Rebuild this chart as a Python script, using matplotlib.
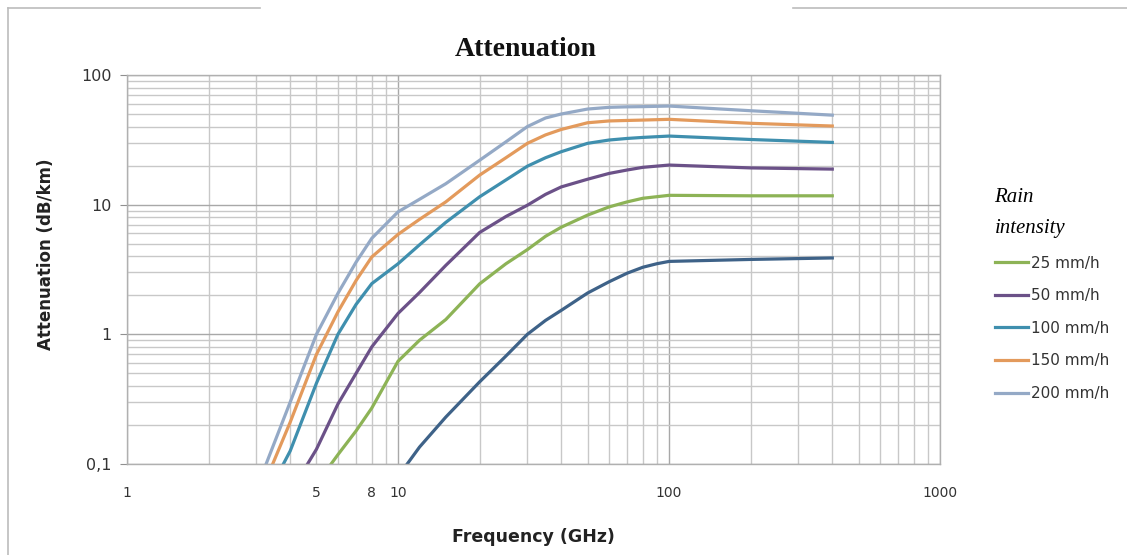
import matplotlib
matplotlib.use("Agg")
import matplotlib.pyplot as plt
from matplotlib.ticker import LogLocator, FuncFormatter, NullFormatter
from matplotlib.lines import Line2D

# ---------- data ----------
freq_25 = [5, 6, 7, 8, 10, 12, 15, 20, 25, 30, 35, 40, 50, 60, 70, 80, 100, 200, 400]
att_25 = [0.07, 0.118, 0.18, 0.27, 0.62, 0.9, 1.3, 2.45, 3.5, 4.5, 5.7, 6.7, 8.3, 9.6, 10.5,
          11.2, 11.8, 11.7, 11.7]

freq_50 = [4, 5, 6, 7, 8, 10, 12, 15, 20, 25, 30, 35, 40, 50, 60, 70, 80, 100, 200, 400]
att_50 = [0.06, 0.13, 0.29, 0.5, 0.8, 1.45, 2.1, 3.4, 6.1, 8.1, 9.9, 12.0, 13.7, 15.7, 17.4,
          18.5, 19.4, 20.2, 19.2, 18.8]

freq_100 = [3, 4, 5, 6, 7, 8, 10, 12, 15, 20, 25, 30, 35, 40, 50, 60, 70, 80, 100, 200, 400]
att_100 = [0.04, 0.126, 0.42, 1.0, 1.7, 2.46, 3.5, 4.9, 7.3, 11.5, 15.5, 19.8, 23.0, 25.6, 29.7,
           31.5, 32.4, 33.0, 33.8, 31.8, 30.2]

freq_150 = [3, 4, 5, 6, 7, 8, 10, 12, 15, 20, 25, 30, 35, 40, 50, 60, 70, 80, 100, 200, 400]
att_150 = [0.05, 0.21, 0.7, 1.49, 2.6, 3.95, 5.9, 7.7, 10.5, 16.9, 23.0, 29.7, 34.5, 38.0, 42.8,
           44.2, 44.6, 44.9, 45.5, 42.4, 40.4]

freq_200 = [3, 4, 5, 6, 7, 8, 10, 12, 15, 20, 25, 30, 35, 40, 50, 60, 70, 80, 100, 200, 400]
att_200 = [0.064, 0.30, 1.0, 2.07, 3.6, 5.5, 8.8, 11.0, 14.5, 22.0, 30.5, 40.0, 46.6, 50.0, 54.6,
           56.3, 56.8, 57.0, 57.6, 53.0, 49.0]

# lowest curve, not in the legend
freq_low = [10, 12, 15, 20, 25, 30, 35, 40, 50, 60, 70, 80, 90, 100, 200, 400]
att_low = [0.08, 0.135, 0.23, 0.43, 0.68, 1.0, 1.28, 1.53, 2.08, 2.54, 2.96, 3.29, 3.5, 3.65,
           3.78, 3.88]

labels = ["25 mm/h", "50 mm/h", "100 mm/h", "150 mm/h", "200 mm/h"]
colors = ["#8db356", "#6b5188", "#3f8fae", "#e39a5c", "#94a9c6"]
low_color = "#3e6288"

# ---------- figure ----------
fig = plt.figure(figsize=(11.27, 5.55), dpi=100)
ax = fig.add_axes([0.1127, 0.164, 0.7215, 0.7009])

ax.plot(freq_low, att_low, color=low_color, lw=2.3, solid_joinstyle="round")
series = [(freq_25, att_25), (freq_50, att_50), (freq_100, att_100),
          (freq_150, att_150), (freq_200, att_200)]
for (f, a), lab, col in zip(series, labels, colors):
    ax.plot(f, a, color=col, lw=2.3, label=lab, solid_joinstyle="round")

ax.set_xscale("log")
ax.set_yscale("log")
ax.set_xlim(1, 1000)
ax.set_ylim(0.1, 100)

ax.xaxis.set_major_locator(LogLocator(base=10))
ax.xaxis.set_minor_locator(LogLocator(base=10, subs=range(2, 10)))
ax.yaxis.set_major_locator(LogLocator(base=10))
ax.yaxis.set_minor_locator(LogLocator(base=10, subs=range(2, 10)))

ax.xaxis.set_major_formatter(FuncFormatter(lambda v, p: f"{v:g}"))
ax.xaxis.set_minor_formatter(FuncFormatter(lambda v, p: f"{v:g}" if round(v) in (5, 8) and v < 10 else ""))
ax.yaxis.set_major_formatter(FuncFormatter(lambda v, p: "0,1" if v < 0.5 else f"{v:g}"))
ax.yaxis.set_minor_formatter(NullFormatter())

ax.grid(True, which="major", color="#a8a8a8", lw=1.0)
ax.grid(True, which="minor", color="#c8c8c8", lw=1.0)
ax.set_axisbelow(True)

for s in ax.spines.values():
    s.set_color("#b0b0b0")
    s.set_linewidth(1.0)

ax.tick_params(axis="y", which="major", length=5, color="#909090", labelsize=11.5,
               labelcolor="#333333", pad=6)
ax.tick_params(axis="y", which="minor", length=0)
ax.tick_params(axis="x", which="both", length=0, labelsize=10, labelcolor="#333333", pad=16)

ax.set_xlabel("Frequency (GHz)", fontsize=12.5, fontweight="bold", color="#222222", labelpad=20)
ax.set_ylabel("Attenuation (dB/km)", fontsize=12, fontweight="bold", color="#222222",
              labelpad=19, y=0.54)
ax.set_title("Attenuation", fontsize=20, fontweight="bold", family="Liberation Serif",
             color="#111111", pad=14, x=0.49)

leg = ax.legend(loc="upper left", bbox_to_anchor=(1.05, 0.746), frameon=False,
                fontsize=11, handlelength=2.2, handletextpad=0.2, labelspacing=1.15,
                title="Rain\nintensity", alignment="left")
ttl = leg.get_title()
ttl.set_fontfamily("Liberation Serif")
ttl.set_fontstyle("italic")
ttl.set_fontsize(15)
ttl.set_linespacing(1.9)
for t in leg.get_texts():
    t.set_color("#333333")

# screenshot frame
fig.add_artist(Line2D([8 / 1127, 8 / 1127], [0, 1 - 8 / 555], color="#bcbcbc", lw=1.2))
fig.add_artist(Line2D([8 / 1127, 260 / 1127], [1 - 8 / 555, 1 - 8 / 555], color="#bcbcbc", lw=1.2))
fig.add_artist(Line2D([793 / 1127, 1.0], [1 - 8 / 555, 1 - 8 / 555], color="#bcbcbc", lw=1.2))

fig.savefig("out.png", dpi=100)
